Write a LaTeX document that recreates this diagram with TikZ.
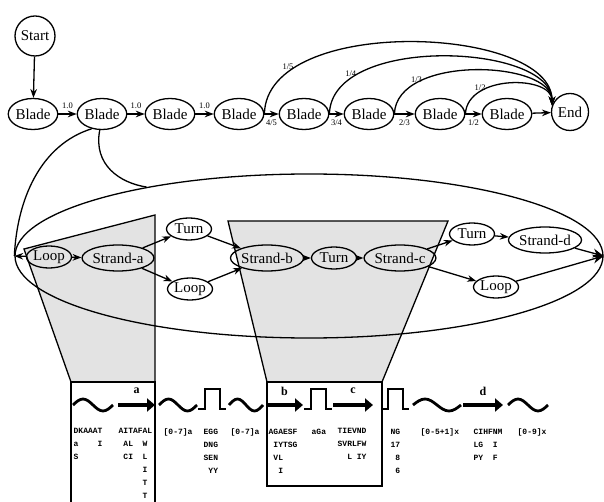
\documentclass[tikz,border=0pt]{standalone}
\usepackage{fontspec}
\setmainfont{Liberation Serif}
\setmonofont{Liberation Mono}
\usetikzlibrary{shapes.geometric,arrows.meta}

\begin{document}
\begin{tikzpicture}[x=1pt, y=-1pt, >=Stealth, line width=1.3pt,
    font=\fontsize{15}{17}\selectfont,
    blade/.style={draw, ellipse, minimum width=46pt, minimum height=31pt, inner sep=0pt},
    state/.style={draw, ellipse, minimum width=45pt, minimum height=22pt, inner sep=0pt},
    strand/.style={draw, ellipse, minimum width=63pt, minimum height=26pt, inner sep=0pt},
    prob/.style={font=\fontsize{8.5}{9}\selectfont, inner sep=1pt},
    shade/.style={draw, fill=gray!22},
    coil/.style={line width=2.8pt},
    sheet/.style={line width=4.5pt, -{Triangle[length=8pt,width=13pt]}},
    sslabel/.style={font=\fontsize{12}{12}\selectfont\bfseries},
    residues/.style={anchor=north west, inner sep=0pt, align=left,
        font=\fontsize{8}{13}\selectfont\ttfamily\bfseries}]
    \useasboundingbox (0,0) rectangle (604,502);

    % Blade chain
    \node[draw, circle, minimum size=40pt, inner sep=0pt] (start) at (35,36) {Start};
    \node[blade] (b1) at (33,114) {Blade};
    \node[blade] (b2) at (102,114) {Blade};
    \node[blade] (b3) at (170,114) {Blade};
    \node[blade] (b4) at (239,114) {Blade};
    \node[blade] (b5) at (304,114) {Blade};
    \node[blade] (b6) at (369,114) {Blade};
    \node[blade] (b7) at (440,114) {Blade};
    \node[blade] (b8) at (507,114) {Blade};
    \node[draw, circle, minimum size=37pt, inner sep=0pt] (end) at (570,112) {End};

    \draw[->] (start) -- (b1);
    \draw[->] (b1) -- node[prob, above=4pt] {1.0} (b2);
    \draw[->] (b2) -- node[prob, above=4pt] {1.0} (b3);
    \draw[->] (b3) -- node[prob, above=4pt] {1.0} (b4);
    \draw[->] (b4) -- node[prob, below=4pt] {4/5} (b5);
    \draw[->] (b5) -- node[prob, below=4pt] {3/4} (b6);
    \draw[->] (b6) -- node[prob, below=4pt] {2/3} (b7);
    \draw[->] (b7) -- node[prob, below=4pt] {1/2} (b8);
    \draw[->] (b8) -- (end);

    % exits to End
    \draw[->] (b4.east) .. controls +(2,-100) and +(0,-80) .. node[prob, pos=0.2, left] {1/5} (end.160);
    \draw[->] (b5.east) .. controls +(2,-80) and +(0,-62) .. node[prob, pos=0.22, left] {1/4} (end.160);
    \draw[->] (b6.east) .. controls +(2,-60) and +(0,-45) .. node[prob, pos=0.27, left] {1/3} (end.160);
    \draw[->] (b7.east) .. controls +(2,-40) and +(0,-30) .. node[prob, pos=0.32, left] {1/2} (end.160);

    % Shaded zoom regions
    \draw[shade] (24,249) -- (155,215) -- (155,382) -- (71,382) -- cycle;
    \draw[shade] (228,221) -- (448,221) -- (382,382) -- (267,382) -- cycle;
    \draw (71,502) -- (71,382) -- (155,382) -- (155,502);
    \draw (267,382) rectangle (382,486);

    % Blade model
    \node[draw, ellipse, minimum width=588pt, minimum height=164pt, inner sep=0pt] (detail) at (309,256) {};
    \draw (b2.235) .. controls (40,145) and (17,200) .. (detail.west);
    \draw (b2.262) .. controls (93,165) and (120,183) .. (detail.157);

    \node[state] (loopa) at (49,257) {Loop};
    \node[strand] (stranda) at (118,258) {Strand-a};
    \node[state] (turna) at (189,229) {Turn};
    \node[state] (loopb) at (190,289) {Loop};
    \node[strand] (strandb) at (267,258) {Strand-b};
    \node[state] (turnb) at (334,258) {Turn};
    \node[strand] (strandc) at (400,258) {Strand-c};
    \node[state] (turnc) at (472,234) {Turn};
    \node[strand] (strandd) at (545,240) {Strand-d};
    \node[state] (loopc) at (496,287) {Loop};

    \draw[->] (loopa) -- (detail.west);
    \draw[->] (loopa) -- (stranda);
    \draw[->] (stranda) -- (turna);
    \draw[->] (stranda) -- (loopb);
    \draw[->] (turna) -- (strandb);
    \draw[->] (loopb) -- (strandb);
    \draw[->] (strandb) -- (turnb);
    \draw[->] (turnb) -- (strandc);
    \draw[->] (strandc) -- (turnc);
    \draw[->] (strandc) -- (loopc);
    \draw[->] (turnc) -- (strandd);
    \draw[-{Stealth[length=11pt,width=9pt]}] (strandd) -- (detail.east);
    \draw[-{Stealth[length=11pt,width=9pt]}] (loopc) -- (detail.east);

    % Secondary structure
    \foreach \x/\w in {73/40, 159/38, 229/34, 413/48, 508/40}
        \draw[coil] (\x,405) sin ++(\w/4,-6) cos ++(\w/4,6) sin ++(\w/4,6) cos ++(\w/4,-6);
    \foreach \x in {198, 304, 381}
        \draw[coil] (\x,409) -- ++(7,0) -- ++(0,-20) -- ++(15,0) -- ++(0,20) -- ++(6,0);
    \foreach \xa/\xb/\s in {118/155/a, 266/303/b, 333/373/c, 463/503/d} {
        \draw[sheet] (\xa,405) -- (\xb,405);
        \node[sslabel] (ss\s) at ({(\xa+\xb)/2},391) {\s};
    }

    % Residues
    \node[residues] (r1) at (73,428) {DKAAAT\\a~~~~I\\S};
    \node[residues] (r2) at (118,428) {AITAFAL\\~AL~~W\\~CI~~L\\~~~~~I\\~~~~~T\\~~~~~T};
    \node[residues] (r3) at (163,428) {[0-7]a};
    \node[residues] (r4) at (203,428) {EGG\\DNG\\SEN\\~YY};
    \node[residues] (r5) at (230,428) {[0-7]a};
    \node[residues] (r6) at (268,428) {AGAESF\\~IYTSG\\~VL\\~~I};
    \node[residues] (r7) at (311,428) {aGa};
    \node[residues] (r8) at (337,428) {TIEVND\\SVRLFW\\~~L~IY};
    \node[residues] (r9) at (390,428) {NG\\17\\~8\\~6};
    \node[residues] (r10) at (420,428) {[0-5+1]x};
    \node[residues] (r11) at (473,428) {CIHFNM\\LG~~I\\PY~~F};
    \node[residues] (r12) at (517,428) {[0-9]x};
\end{tikzpicture}
\end{document}
